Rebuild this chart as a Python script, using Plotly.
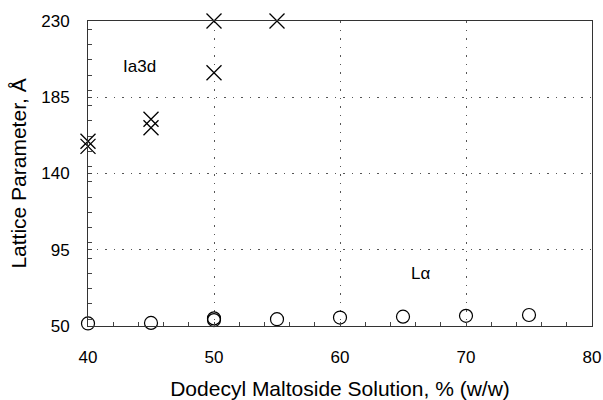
import plotly.graph_objects as go

# Ia3d (crosses)
ia3d_x = [40, 40, 45, 45, 50, 50, 55]
ia3d_y = [159, 156, 172, 167, 230, 199.5, 230]
# L-alpha (circles)
la_x = [40, 45, 50, 50, 55, 60, 65, 70, 75]
la_y = [51.5, 51.8, 54.5, 53.5, 54, 55, 55.5, 56, 56.5]

x_ticks = [40, 50, 60, 70, 80]
y_ticks = [50, 95, 140, 185, 230]

fig = go.Figure()
fig.add_trace(go.Scatter(x=ia3d_x, y=ia3d_y, mode="markers", cliponaxis=False,
                         marker=dict(symbol="x-thin", size=15, line=dict(width=1.3, color="black"), color="black")))
fig.add_trace(go.Scatter(x=la_x, y=la_y, mode="markers", cliponaxis=False,
                         marker=dict(symbol="circle-open", size=13, line=dict(width=1.2, color="black"), color="black")))

font = "Liberation Sans, Arial, Helvetica, sans-serif"
grid = dict(showgrid=True, gridcolor="#555", griddash="1.5px,7px", gridwidth=1)
fig.update_layout(
    width=603, height=400,
    margin=dict(l=88, r=11, t=21, b=74, autoexpand=False),
    paper_bgcolor="white", plot_bgcolor="white",
    showlegend=False,
    font=dict(family=font, color="black", size=17),
    xaxis=dict(range=[40, 80], tickvals=x_ticks, ticks="inside", ticklen=4,
               showline=True, linecolor="#333", linewidth=1, mirror=True,
               zeroline=False, ticklabelstandoff=16, tickfont=dict(size=17),
               automargin=False,
               minor=dict(dtick=2, ticks="inside", ticklen=4, showgrid=False),
               title=dict(text="Dodecyl Maltoside Solution, % (w/w)", font=dict(size=21), standoff=18),
               **grid),
    yaxis=dict(range=[50, 230], tickvals=y_ticks, ticks="inside", ticklen=4,
               showline=True, linecolor="#333", linewidth=1, mirror=True,
               zeroline=False, ticklabelstandoff=14, tickfont=dict(size=17),
               automargin=False,
               minor=dict(dtick=9, ticks="inside", ticklen=4, showgrid=False),
               title=dict(text="Lattice Parameter, Å", font=dict(size=21), standoff=8),
               **grid),
    annotations=[
        dict(x=44.1, y=203, text="Ia3d", showarrow=False, font=dict(size=17)),
        dict(x=66.4, y=81.2, text="Lα", showarrow=False, font=dict(size=17)),
    ],
)
fig.write_html("out.html")
